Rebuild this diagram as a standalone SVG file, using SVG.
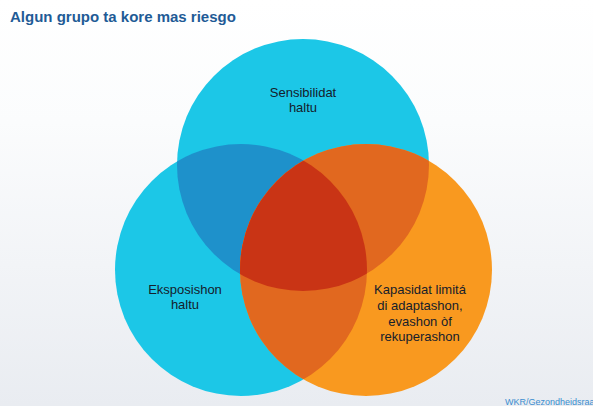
<svg xmlns="http://www.w3.org/2000/svg" width="593" height="406" viewBox="0 0 593 406">
<defs>
<linearGradient id="bg" x1="0" y1="0" x2="0" y2="1">
<stop offset="0" stop-color="#ffffff"/>
<stop offset="0.3" stop-color="#fbfcfd"/>
<stop offset="1" stop-color="#e9ecf1"/>
</linearGradient>
<clipPath id="cTop"><circle cx="303" cy="165" r="126"/></clipPath>
<clipPath id="cLeft"><circle cx="241" cy="270" r="126"/></clipPath>
<style>
.lbl{font-family:"Liberation Sans",Arial,sans-serif;font-size:13px;fill:#15202b;text-anchor:middle}
.title{font-family:"Liberation Sans",Arial,sans-serif;font-size:15px;font-weight:bold;fill:#1f5b96}
.src{font-family:"Liberation Sans",Arial,sans-serif;font-size:9px;fill:#3b8ed0}
</style>
</defs>
<rect width="593" height="406" fill="url(#bg)"/>
<text class="title" x="10" y="22">Algun grupo ta kore mas riesgo</text>
<g id="circle-sensibilidat">
<circle cx="303" cy="165" r="126" fill="#1cc7e7"/>
</g>
<g id="circle-eksposishon">
<circle cx="241" cy="270" r="126" fill="#1cc7e7"/>
<circle cx="241" cy="270" r="126" fill="#1e91cb" clip-path="url(#cTop)"/>
</g>
<g id="circle-kapasidat">
<circle cx="366" cy="270" r="126" fill="#f9991f"/>
<circle cx="366" cy="270" r="126" fill="#e1681f" clip-path="url(#cTop)"/>
<circle cx="366" cy="270" r="126" fill="#e1681f" clip-path="url(#cLeft)"/>
<g clip-path="url(#cLeft)"><circle cx="366" cy="270" r="126" fill="#c93415" clip-path="url(#cTop)"/></g>
</g>
<g id="labels">
<text class="lbl" x="303" y="97">Sensibilidat</text>
<text class="lbl" x="303" y="112">haltu</text>
<text class="lbl" x="185" y="294">Eksposishon</text>
<text class="lbl" x="185" y="309">haltu</text>
<text class="lbl" x="420" y="294">Kapasidat limitá</text>
<text class="lbl" x="420" y="310">di adaptashon,</text>
<text class="lbl" x="420" y="326">evashon òf</text>
<text class="lbl" x="420" y="341">rekuperashon</text>
</g>
<g id="connectors"/>
<text class="src" x="505" y="405">WKR/Gezondheidsraa</text>
</svg>
